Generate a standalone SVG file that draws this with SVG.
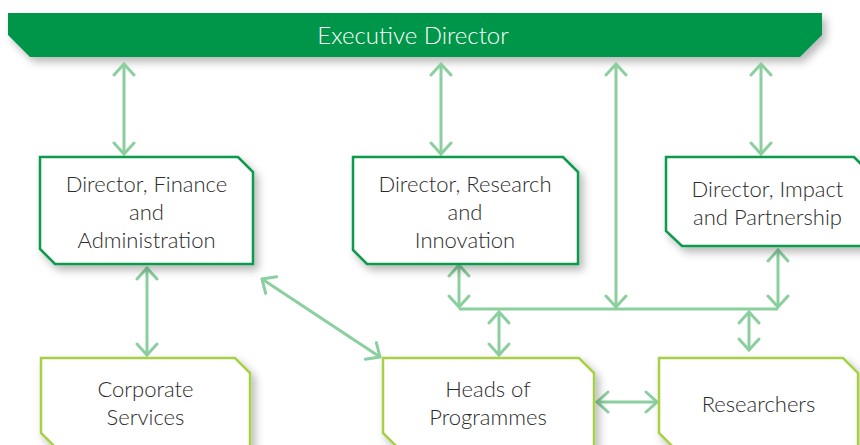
<svg xmlns="http://www.w3.org/2000/svg" width="860" height="445" viewBox="0 0 860 445">
  <defs>
    <filter id="sh" x="-10%" y="-10%" width="130%" height="140%">
      <feDropShadow dx="4" dy="5" stdDeviation="4" flood-color="#000" flood-opacity="0.28"/>
    </filter>
    <marker id="ah" viewBox="-14 -12 16 24" markerWidth="16" markerHeight="24" refX="0" refY="0" markerUnits="userSpaceOnUse" orient="auto-start-reverse">
      <path d="M-11,-10 L0,0 L-11,10" fill="none" stroke="#8ccf9e" stroke-width="3" stroke-linecap="round" stroke-linejoin="miter"/>
    </marker>
  </defs>
  <style>
    .top { fill: #fff; stroke: #0f9a4b; stroke-width: 2.5; filter: url(#sh); }
    .low { fill: #fff; stroke: #a8d046; stroke-width: 2.5; filter: url(#sh); }
    .t { font-family: Lato, "Open Sans", "Liberation Sans", sans-serif; font-weight: 300; font-size: 22px; fill: #2b2b2b; text-anchor: middle; }
    .c { fill: none; stroke: #8ccf9e; stroke-width: 3; }
    .a { marker-start: url(#ah); marker-end: url(#ah); }
  </style>
  <rect width="860" height="445" fill="#fff"/>

  <g id="executive-director">
    <path d="M8,13 H822 V35 L800,57 H30 L8,35 Z" fill="#05964a" filter="url(#sh)"/>
    <text x="413" y="44" class="t" style="fill:#fff;font-size:24px">Executive Director</text>
  </g>

  <g id="connectors">
    <line class="c a" x1="124" y1="64" x2="124" y2="154"/>
    <line class="c a" x1="441" y1="64" x2="441" y2="154"/>
    <line class="c a" x1="616" y1="64" x2="616" y2="307"/>
    <line class="c a" x1="761" y1="64" x2="761" y2="154"/>
    <line class="c" x1="459" y1="309" x2="778" y2="309"/>
    <line class="c a" x1="459" y1="265" x2="459" y2="307"/>
    <line class="c a" x1="778" y1="250" x2="778" y2="307"/>
    <line class="c a" x1="499" y1="312" x2="499" y2="355"/>
    <line class="c a" x1="749" y1="312" x2="749" y2="350"/>
    <line class="c a" x1="147" y1="268" x2="147" y2="355"/>
    <line class="c a" x1="262" y1="279" x2="380" y2="357"/>
    <line class="c a" x1="597" y1="402" x2="657" y2="402"/>
  </g>

  <g id="director-finance">
    <path class="top" d="M40,157 H238 L253,172 V264 H55 L40,249 Z"/>
    <text class="t" x="146.5" y="192">Director, Finance</text>
    <text class="t" x="146.5" y="220">and</text>
    <text class="t" x="146.5" y="248">Administration</text>
  </g>

  <g id="director-research">
    <path class="top" d="M353,157 H563 L578,172 V264 H367 L353,250 Z"/>
    <text class="t" x="465" y="192">Director, Research</text>
    <text class="t" x="465" y="220">and</text>
    <text class="t" x="465" y="248">Innovation</text>
  </g>

  <g id="director-impact">
    <path class="top" d="M666,157 H854 L869,172 V246 H682 L666,231 Z"/>
    <text class="t" x="767.5" y="197">Director, Impact</text>
    <text class="t" x="767.5" y="225">and Partnership</text>
  </g>

  <g id="corporate-services">
    <path class="low" d="M41,358 H235 L250,373 V448 H56 L41,433 Z"/>
    <text class="t" x="145.5" y="397">Corporate</text>
    <text class="t" x="145.5" y="425">Services</text>
  </g>

  <g id="heads-of-programmes">
    <path class="low" d="M383,358 H579 L594,373 V448 H398 L383,433 Z"/>
    <text class="t" x="488" y="397">Heads of</text>
    <text class="t" x="488" y="425">Programmes</text>
  </g>

  <g id="researchers">
    <path class="low" d="M659,358 H843 L858,373 V448 H674 L659,433 Z"/>
    <text class="t" x="758.5" y="412">Researchers</text>
  </g>
</svg>
